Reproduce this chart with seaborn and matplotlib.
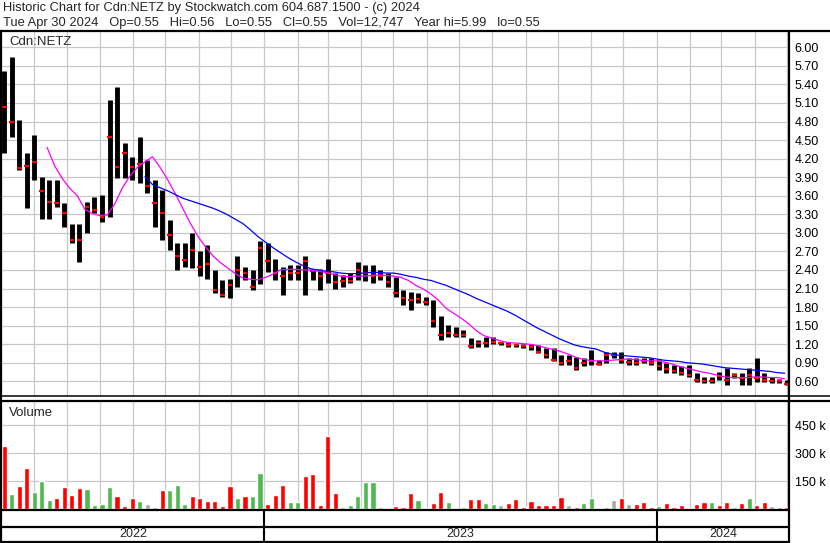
import numpy as np
import pandas as pd
import matplotlib
matplotlib.use("Agg")
import matplotlib.pyplot as plt
import matplotlib.dates as mdates
from matplotlib.lines import Line2D
import seaborn as sns

# Cdn:NETZ weekly bars, week 0 = week of May 2 2022 ... week 104 = week of Apr 29 2024
start = pd.Timestamp("2022-05-02")

week_hi = [5.62, 5.85, 4.82, 4.29, 4.58, 3.91, 3.86, 3.86, 3.48, 3.15,
           3.15, 3.50, 3.58, 3.61, 5.15, 5.36, 4.45, 4.23, 4.55, 4.18,
           3.86, 3.69, 3.21, 2.83, 2.83, 2.99, 2.70, 2.80, 2.40, 2.24,
           2.25, 2.62, 2.45, 2.40, 2.86, 2.83, 2.58, 2.45, 2.48, 2.48,
           2.62, 2.42, 2.42, 2.58, 2.35, 2.32, 2.35, 2.53, 2.48, 2.48,
           2.40, 2.35, 2.29, 2.08, 2.05, 2.02, 1.97, 1.92, 1.65, 1.51,
           1.48, 1.43, 1.30, 1.27, 1.32, 1.32, 1.24, 1.24, 1.21, 1.21,
           1.21, 1.19, 1.13, 1.13, 1.03, 1.03, 1.00, 0.97, 1.11, 0.94,
           1.08, 1.08, 1.08, 0.97, 0.97, 0.97, 0.97, 0.94, 0.89, 0.86,
           0.84, 0.86, 0.73, 0.67, 0.67, 0.75, 0.81, 0.73, 0.73, 0.81,
           0.97, 0.73, 0.67, 0.64, 0.62]
week_lo = [4.29, 4.55, 4.02, 3.40, 3.85, 3.23, 3.23, 3.42, 3.10, 2.83,
           2.53, 2.99, 3.32, 3.18, 3.26, 3.88, 3.88, 3.85, 3.80, 3.64,
           3.10, 2.88, 2.72, 2.40, 2.45, 2.43, 2.30, 2.25, 2.02, 1.97,
           1.94, 2.13, 2.24, 2.08, 2.18, 2.37, 2.24, 1.99, 2.24, 2.24,
           1.99, 2.24, 2.08, 2.19, 2.10, 2.13, 2.19, 2.24, 2.22, 2.19,
           2.24, 2.13, 1.97, 1.83, 1.76, 1.86, 1.83, 1.48, 1.27, 1.32,
           1.32, 1.32, 1.13, 1.16, 1.16, 1.21, 1.19, 1.16, 1.16, 1.13,
           1.11, 1.05, 0.97, 0.92, 0.86, 0.86, 0.78, 0.84, 0.86, 0.86,
           0.89, 0.97, 0.89, 0.86, 0.86, 0.89, 0.86, 0.78, 0.73, 0.73,
           0.70, 0.67, 0.59, 0.57, 0.58, 0.62, 0.54, 0.65, 0.54, 0.54,
           0.59, 0.59, 0.57, 0.57, 0.54]
week_close = [5.04, 4.80, 4.05, 4.08, 4.15, 3.67, 3.50, 3.48, 3.32, 2.88,
              2.88, 3.42, 3.37, 3.26, 4.55, 4.07, 4.29, 4.07, 4.12, 3.75,
              3.48, 3.32, 2.97, 2.62, 2.56, 2.72, 2.45, 2.50, 2.08, 2.00,
              2.15, 2.40, 2.35, 2.12, 2.75, 2.55, 2.35, 2.30, 2.35, 2.35,
              2.55, 2.38, 2.30, 2.35, 2.20, 2.22, 2.22, 2.40, 2.35, 2.30,
              2.30, 2.20, 2.02, 1.95, 1.92, 1.93, 1.88, 1.58, 1.35, 1.38,
              1.35, 1.35, 1.17, 1.22, 1.22, 1.24, 1.22, 1.19, 1.19, 1.17,
              1.16, 1.08, 1.03, 0.95, 0.90, 0.92, 0.82, 0.90, 0.92, 0.88,
              1.03, 1.03, 0.94, 0.91, 0.90, 0.92, 0.90, 0.84, 0.80, 0.76,
              0.74, 0.70, 0.62, 0.60, 0.61, 0.68, 0.62, 0.70, 0.66, 0.70,
              0.66, 0.62, 0.60, 0.60, 0.55]
# peak daily volume in each week (thousands) and its direction
week_vol_k = [338, 82, 127, 221, 96, 155, 52, 61, 120, 75,
              114, 112, 25, 30, 120, 73, 20, 61, 46, 29,
              15, 105, 105, 129, 30, 73, 61, 43, 43, 20,
              127, 61, 70, 73, 198, 30, 79, 132, 38, 38,
              177, 189, 25, 391, 91, 16, 25, 70, 145, 145,
              16, 10, 21, 16, 91, 52, 10, 34, 96, 38,
              10, 12, 55, 55, 34, 29, 23, 34, 55, 16,
              48, 25, 25, 25, 66, 25, 16, 34, 61, 10,
              16, 52, 61, 30, 29, 38, 16, 21, 34, 16,
              23, 10, 27, 41, 38, 25, 38, 16, 34, 64,
              25, 38, 20, 16, 12]
week_vol_dir = ["dn", "up", "dn", "dn", "up", "up", "up", "dn", "dn", "dn",
                "dn", "up", "up", "up", "up", "dn", "dn", "dn", "up", "eq",
                "up", "dn", "up", "up", "up", "dn", "dn", "dn", "dn", "dn",
                "dn", "up", "dn", "up", "up", "dn", "dn", "dn", "up", "up",
                "dn", "dn", "dn", "dn", "dn", "up", "up", "up", "up", "up",
                "eq", "dn", "dn", "dn", "dn", "up", "dn", "dn", "dn", "up",
                "dn", "up", "dn", "dn", "up", "up", "eq", "dn", "dn", "dn",
                "dn", "dn", "dn", "dn", "dn", "eq", "dn", "up", "up", "dn",
                "up", "eq", "dn", "eq", "dn", "dn", "dn", "up", "dn", "dn",
                "dn", "up", "dn", "dn", "up", "dn", "dn", "up", "dn", "up",
                "dn", "dn", "eq", "up", "dn"]

# moving averages, one value per week
ma_fast_first_week = 6
ma_fast = [4.38, 4.08, 3.88, 3.72, 3.60, 3.38, 3.31, 3.28, 3.29, 3.47,
           3.73, 3.92, 4.06, 4.15, 4.23, 4.06, 3.86, 3.64, 3.40, 3.16,
           2.95, 2.78, 2.63, 2.52, 2.43, 2.34, 2.27, 2.25, 2.24, 2.28,
           2.33, 2.40, 2.41, 2.41, 2.40, 2.40, 2.38, 2.36, 2.33, 2.30,
           2.29, 2.30, 2.30, 2.31, 2.32, 2.31, 2.30, 2.28, 2.23, 2.15,
           2.09, 2.01, 1.91, 1.78, 1.70, 1.62, 1.53, 1.42, 1.34, 1.30,
           1.26, 1.23, 1.22, 1.21, 1.20, 1.18, 1.15, 1.12, 1.09, 1.05,
           1.00, 0.96, 0.94, 0.93, 0.93, 0.94, 0.95, 0.96, 0.95, 0.94,
           0.93, 0.93, 0.91, 0.88, 0.84, 0.81, 0.78, 0.75, 0.73, 0.70,
           0.67, 0.66, 0.66, 0.66, 0.67, 0.67, 0.66, 0.66, 0.64]
ma_slow_first_week = 19
ma_slow = [3.91, 3.78, 3.73, 3.68, 3.62, 3.56, 3.52, 3.48, 3.44, 3.40,
           3.35, 3.29, 3.22, 3.15, 3.05, 2.94, 2.85, 2.76, 2.68, 2.60,
           2.53, 2.47, 2.42, 2.40, 2.38, 2.37, 2.35, 2.34, 2.34, 2.35,
           2.36, 2.36, 2.35, 2.35, 2.33, 2.30, 2.28, 2.25, 2.23, 2.19,
           2.15, 2.10, 2.05, 2.00, 1.94, 1.89, 1.84, 1.79, 1.74, 1.68,
           1.61, 1.54, 1.47, 1.41, 1.35, 1.29, 1.24, 1.19, 1.16, 1.14,
           1.12, 1.07, 1.04, 1.02, 1.01, 1.00, 0.99, 0.98, 0.96, 0.94,
           0.93, 0.92, 0.90, 0.89, 0.88, 0.86, 0.84, 0.82, 0.81, 0.80,
           0.79, 0.78, 0.77, 0.76, 0.74, 0.73]

price_ticks = [0.60, 0.90, 1.20, 1.50, 1.80, 2.10, 2.40, 2.70, 3.00, 3.30,
               3.60, 3.90, 4.20, 4.50, 4.80, 5.10, 5.40, 5.70, 6.00]
vol_ticks = [150, 300, 450]
years = ["2022", "2023", "2024"]
year_starts = ["2023-01-01", "2024-01-01"]

title1 = "Historic Chart for Cdn:NETZ by Stockwatch.com 604.687.1500 - (c) 2024"
title2 = "Tue Apr 30 2024   Op=0.55   Hi=0.56   Lo=0.55   Cl=0.55   Vol=12,747   Year hi=5.99   lo=0.55"

sns.set_theme(style="white")
plt.rcParams["font.family"] = ["Liberation Sans", "DejaVu Sans"]

W, H = 830, 543
fig = plt.figure(figsize=(W / 100, H / 100), dpi=100)
fig.patch.set_facecolor("white")


def fx(x):
    return x / W


def fy(y):
    return 1 - y / H


n = len(week_close)
week_mid = start + pd.to_timedelta(np.arange(n) * 7 + 2, unit="D")
day = pd.Timedelta(days=1)
x0, x1 = start, start + pd.Timedelta(days=732)

df = pd.DataFrame({"date": week_mid, "hi": week_hi, "lo": week_lo, "close": week_close,
                   "vol": week_vol_k, "dir": week_vol_dir})
fast = pd.DataFrame({"date": start + pd.to_timedelta((ma_fast_first_week + np.arange(len(ma_fast))) * 7, unit="D"),
                     "ma": ma_fast})
slow = pd.DataFrame({"date": start + pd.to_timedelta((ma_slow_first_week + np.arange(len(ma_slow))) * 7, unit="D"),
                     "ma": ma_slow})

grid_kw = dict(color="#c8c8c8", linewidth=0.9)

# price panel
ax = fig.add_axes([fx(2), fy(396), 787 / W, 364 / H])
ax.vlines(df["date"], df["lo"], df["hi"], color="black", linewidth=3.5, zorder=3)
ax.hlines(df["close"], df["date"] - 2.2 * day, df["date"] + 2.2 * day, color="#ff0000",
          linewidth=1.6, zorder=4)
sns.lineplot(data=fast, x="date", y="ma", ax=ax, color="#ff00ff", linewidth=0.9, zorder=5)
sns.lineplot(data=slow, x="date", y="ma", ax=ax, color="#0000ff", linewidth=0.9, zorder=5)
ax.set_xlim(x0, x1)
ax.set_ylim(0.362, 6.247)
ax.set_yticks(price_ticks)
ax.set_yticklabels([f"{t:.2f}" for t in price_ticks])
ax.xaxis.set_major_locator(mdates.MonthLocator())
ax.grid(True, **grid_kw)
ax.yaxis.tick_right()
ax.tick_params(axis="y", length=0, pad=4, labelsize=9, colors="black")
ax.tick_params(axis="x", length=0, labelbottom=False)
ax.set_xlabel("")
ax.set_ylabel("")
for s in ax.spines.values():
    s.set_visible(False)

# volume panel
axv = fig.add_axes([fx(2), fy(510), 787 / W, 109 / H])
vol_colors = {"dn": "#ff0000", "up": "#4fb94f", "eq": "#a9a9a9"}
axv.bar(df["date"], df["vol"], width=4.8, color=[vol_colors[d] for d in df["dir"]], zorder=3)
axv.set_xlim(x0, x1)
axv.set_ylim(-2.7, 581)
axv.set_yticks(vol_ticks)
axv.set_yticklabels([f"{t} k" for t in vol_ticks])
axv.xaxis.set_major_locator(mdates.MonthLocator())
axv.grid(True, **grid_kw)
axv.yaxis.tick_right()
axv.tick_params(axis="y", length=0, pad=4, labelsize=9, colors="black")
axv.tick_params(axis="x", length=0, labelbottom=False)
for s in axv.spines.values():
    s.set_visible(False)

# year strip
axy = fig.add_axes([fx(2), fy(542), 787 / W, 32 / H])
axy.set_xlim(x0, x1)
axy.set_ylim(0, 1)
bounds = [x0] + [pd.Timestamp(d) for d in year_starts] + [x1]
for b in bounds[1:-1]:
    axy.axvline(b, color="black", linewidth=1.5)
for i, yr in enumerate(years):
    mid = bounds[i] + (bounds[i + 1] - bounds[i]) / 2
    axy.text(mid, 0.24, yr, ha="center", va="center", fontsize=9)
axy.set_xticks([])
axy.set_yticks([])
for s in axy.spines.values():
    s.set_visible(False)

# frame lines
frame = [((0, 31), (830, 31), 1.6), ((1, 31), (1, 543), 1.6), ((789, 31), (789, 543), 1.6),
         ((0, 396), (830, 396), 1.1), ((0, 401), (830, 401), 1.6),
         ((0, 510), (789, 510), 1.6), ((0, 527), (789, 527), 1.6), ((0, 542), (789, 542), 1.6)]
for (a, b, lw) in frame:
    fig.add_artist(Line2D([fx(a[0]), fx(b[0])], [fy(a[1]), fy(b[1])], color="black",
                          linewidth=lw, transform=fig.transFigure))

fig.text(fx(3), fy(8.5), title1, fontsize=9.3, va="center", ha="left")
fig.text(fx(3), fy(23), title2, fontsize=9.3, va="center", ha="left")
fig.text(fx(9), fy(42), "Cdn:NETZ", fontsize=9.5, va="center", ha="left")
fig.text(fx(9), fy(413), "Volume", fontsize=9.5, va="center", ha="left")

fig.savefig("out.png", dpi=100)
